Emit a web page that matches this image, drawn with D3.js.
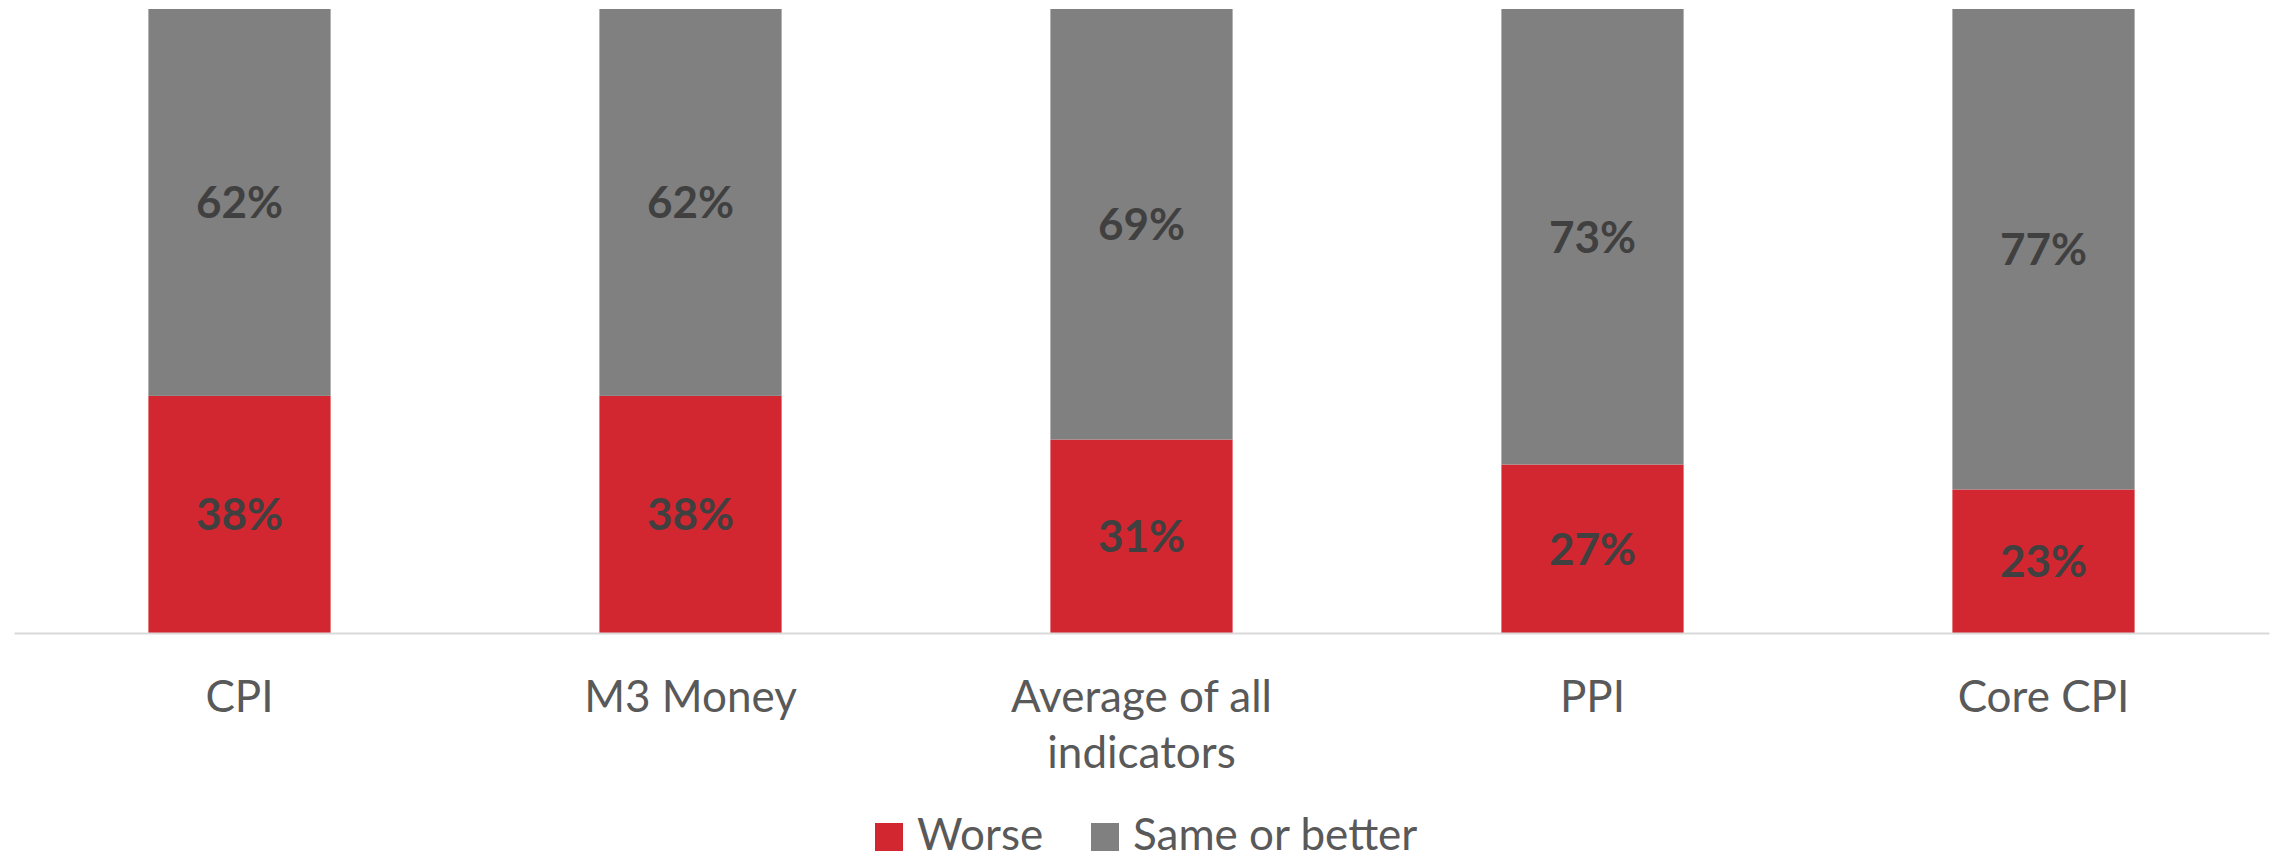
<!DOCTYPE html>
<html>
<head>
<meta charset="utf-8">
<script src="https://cdn.jsdelivr.net/npm/d3@7"></script>
<style>
  body { margin: 0; background: #fff; }
  svg text { font-family: Lato, "Open Sans", sans-serif; }
</style>
</head>
<body>
<svg id="chart" width="2280" height="853"></svg>
<script>
// data
var categories = ["CPI", "M3 Money", "Average of all indicators", "PPI", "Core CPI"];
var worse = [0.38, 0.38, 0.31, 0.27, 0.23];
var sameOrBetter = [0.62, 0.62, 0.69, 0.73, 0.77];
var seriesNames = ["Worse", "Same or better"];
var seriesColors = ["#D22630", "#808080"];

var svg = d3.select("#chart");

var x = d3.scaleBand()
    .domain(categories)
    .range([14, 2269])
    .paddingInner(0.596)
    .paddingOuter(0.298);

var y = d3.scaleLinear()
    .domain([0, 1])
    .range([633, 9]);

var rows = categories.map(function(c, i) {
    return { cat: c, worse: worse[i], same: sameOrBetter[i] };
});
var stack = d3.stack().keys(["worse", "same"])(rows);

var layers = svg.append("g")
    .selectAll("g")
    .data(stack)
    .enter()
    .append("g")
    .attr("fill", function(d, i) { return seriesColors[i]; });

layers.selectAll("rect")
    .data(function(d) { return d; })
    .enter()
    .append("rect")
    .attr("x", function(d) { return x(d.data.cat); })
    .attr("y", function(d) { return y(d[1]); })
    .attr("width", x.bandwidth())
    .attr("height", function(d) { return y(d[0]) - y(d[1]); });

// value labels
layers.selectAll("text")
    .data(function(d) { return d; })
    .enter()
    .append("text")
    .attr("x", function(d) { return x(d.data.cat) + x.bandwidth() / 2; })
    .attr("y", function(d) { return (y(d[0]) + y(d[1])) / 2; })
    .attr("dy", "0.36em")
    .attr("text-anchor", "middle")
    .attr("fill", "#404040")
    .attr("font-weight", "bold")
    .attr("font-size", 44)
    .text(function(d) { return Math.round((d[1] - d[0]) * 100) + "%"; });

// baseline axis
var axis = svg.append("g")
    .attr("transform", "translate(0," + y(0) + ")")
    .call(d3.axisBottom(x).tickSize(0).tickFormat(""));
axis.select(".domain")
    .attr("stroke", "#d9d9d9")
    .attr("stroke-width", 2);

// category labels (wrapped)
var wrapWidth = 300;
svg.append("g")
    .selectAll("text")
    .data(categories)
    .enter()
    .append("text")
    .attr("text-anchor", "middle")
    .attr("fill", "#595959")
    .attr("font-size", 44)
    .each(function(c) {
        var t = d3.select(this);
        var words = c.split(" ");
        var lines = [];
        var line = [];
        words.forEach(function(w) {
            line.push(w);
            t.text(line.join(" "));
            if (this.getComputedTextLength() > wrapWidth && line.length > 1) {
                line.pop();
                lines.push(line.join(" "));
                line = [w];
            }
        }, this);
        lines.push(line.join(" "));
        t.text(null);
        lines.forEach(function(l, i) {
            t.append("tspan")
                .attr("x", x(c) + x.bandwidth() / 2)
                .attr("y", 712 + i * 56)
                .text(l);
        });
    });

// legend
var legend = svg.append("g");
var legendX = [875, 1091];
seriesNames.forEach(function(name, i) {
    legend.append("rect")
        .attr("x", legendX[i])
        .attr("y", 823)
        .attr("width", 28)
        .attr("height", 28)
        .attr("fill", seriesColors[i]);
    legend.append("text")
        .attr("x", legendX[i] + 42)
        .attr("y", 850)
        .attr("fill", "#595959")
        .attr("font-size", 44)
        .text(name);
});
</script>
</body>
</html>
